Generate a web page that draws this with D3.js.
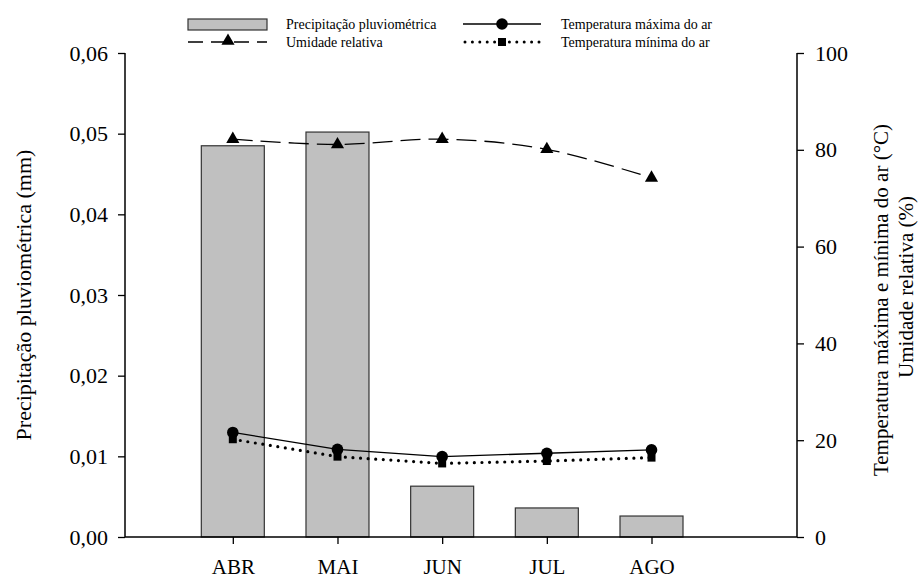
<!DOCTYPE html>
<html>
<head>
<meta charset="utf-8">
<script src="https://cdn.jsdelivr.net/npm/d3@7/dist/d3.min.js"></script>
<style>
  body { margin: 0; background: #fff; }
  svg text { font-family: "Liberation Serif", "Times New Roman", Times, Tinos, "Noto Serif", "DejaVu Serif", serif; fill: #000; }
</style>
</head>
<body>
<svg id="chart" width="918" height="579"></svg>
<script>
const months = ["ABR", "MAI", "JUN", "JUL", "AGO"];
const precipitation = [0.0485, 0.0502, 0.0063, 0.0036, 0.0026];
const humidity = [82.2, 81.1, 82.2, 80.1, 74.2];
const tempMax = [21.6, 18.1, 16.6, 17.3, 18.0];
const tempMin = [20.2, 16.6, 15.2, 15.7, 16.4];
const leftTicks = [0, 0.01, 0.02, 0.03, 0.04, 0.05, 0.06];
const rightTicks = [0, 20, 40, 60, 80, 100];

const margin = { left: 125, right: 797, top: 53, bottom: 537 };
const svg = d3.select("#chart");

const x = d3.scaleLinear().domain([-1.03, 5.39]).range([margin.left, margin.right]);
const yL = d3.scaleLinear().domain([0, 0.06]).range([margin.bottom, margin.top]);
const yR = d3.scaleLinear().domain([0, 100]).range([margin.bottom, margin.top]);
const barW = 63;

// bars
svg.append("g").selectAll("rect")
  .data(precipitation)
  .join("rect")
  .attr("x", (d, i) => x(i) - barW / 2)
  .attr("y", d => yL(d))
  .attr("width", barW)
  .attr("height", d => yL(0) - yL(d))
  .attr("fill", "#c0c0c0")
  .attr("stroke", "#333")
  .attr("stroke-width", 1.2);

// axes
const fmt = d => d3.format(".2f")(d).replace(".", ",");
const left = svg.append("g")
  .attr("transform", `translate(${margin.left},0)`)
  .call(d3.axisLeft(yL).tickValues(leftTicks).tickFormat(fmt).tickSize(7).tickPadding(10));
const right = svg.append("g")
  .attr("transform", `translate(${margin.right},0)`)
  .call(d3.axisRight(yR).tickValues(rightTicks).tickSize(7).tickPadding(11));
const bottom = svg.append("g")
  .attr("transform", `translate(0,${margin.bottom})`)
  .call(d3.axisBottom(x).tickValues(d3.range(months.length)).tickFormat(i => months[i]).tickSize(7).tickPadding(15));
[left, right, bottom].forEach(g => {
  g.attr("font-family", null).attr("font-size", 22);
  g.select(".domain").attr("d", null);
  g.selectAll("line").attr("stroke", "#000").attr("stroke-width", 1.3);
});
bottom.attr("font-size", 21);
svg.append("path")
  .attr("d", `M${margin.left},${margin.top}V${margin.bottom}H${margin.right}V${margin.top}`)
  .attr("fill", "none").attr("stroke", "#000").attr("stroke-width", 1.5);

// lines
const line = d3.line().x((d, i) => x(i)).y(d => yR(d)).curve(d3.curveCatmullRom.alpha(0.5));
const straight = d3.line().x((d, i) => x(i)).y(d => yR(d));
svg.append("path").attr("d", line(humidity))
  .attr("fill", "none").attr("stroke", "#000").attr("stroke-width", 1.3).attr("stroke-dasharray", "20,8");
svg.append("path").attr("d", straight(tempMin))
  .attr("fill", "none").attr("stroke", "#000").attr("stroke-width", 3.2)
  .attr("stroke-linecap", "round").attr("stroke-dasharray", "0,7.6");
svg.append("path").attr("d", straight(tempMax))
  .attr("fill", "none").attr("stroke", "#000").attr("stroke-width", 1.3);

const tri = d3.symbol().type(d3.symbolTriangle).size(75);
svg.append("g").selectAll("path").data(humidity).join("path")
  .attr("d", tri).attr("transform", (d, i) => `translate(${x(i)},${yR(d)})`).attr("fill", "#000");
svg.append("g").selectAll("rect").data(tempMin).join("rect")
  .attr("x", (d, i) => x(i) - 4).attr("y", d => yR(d) - 4).attr("width", 8).attr("height", 8).attr("fill", "#000");
svg.append("g").selectAll("circle").data(tempMax).join("circle")
  .attr("cx", (d, i) => x(i)).attr("cy", d => yR(d)).attr("r", 5.8).attr("fill", "#000");

// axis titles
svg.append("text")
  .attr("transform", `translate(31,${(margin.top + margin.bottom) / 2}) rotate(-90)`)
  .attr("text-anchor", "middle").attr("font-size", 22)
  .text("Precipitação pluviométrica (mm)");
svg.append("text")
  .attr("transform", `translate(888,300) rotate(-90)`)
  .attr("text-anchor", "middle").attr("font-size", 21)
  .text("Temperatura máxima e mínima do ar (°C)");
svg.append("text")
  .attr("transform", `translate(913,287) rotate(-90)`)
  .attr("text-anchor", "middle").attr("font-size", 21)
  .text("Umidade relativa (%)");

// legend
const lg = svg.append("g").attr("font-size", 14);
const row1 = 24, row2 = 42;
lg.append("rect").attr("x", 188).attr("y", 19).attr("width", 79).attr("height", 11)
  .attr("fill", "#c0c0c0").attr("stroke", "#333").attr("stroke-width", 1.2);
lg.append("text").attr("x", 286).attr("y", row1 + 5).text("Precipitação pluviométrica");
lg.append("path").attr("d", `M188,${row2}H267`).attr("stroke", "#000").attr("stroke-width", 1.3)
  .attr("stroke-dasharray", "15,8,15,8");
lg.append("path").attr("d", tri).attr("transform", `translate(228,${row2 - 1})`).attr("fill", "#000");
lg.append("text").attr("x", 286).attr("y", row2 + 5).text("Umidade relativa");
lg.append("path").attr("d", `M463,${row1}H541`).attr("stroke", "#000").attr("stroke-width", 1.3);
lg.append("circle").attr("cx", 502).attr("cy", row1).attr("r", 5.8).attr("fill", "#000");
lg.append("text").attr("x", 561).attr("y", row1 + 5).text("Temperatura máxima do ar");
lg.append("path").attr("d", `M465,${row2}H541`).attr("stroke", "#000").attr("stroke-width", 3)
  .attr("stroke-linecap", "round").attr("stroke-dasharray", "0,7.4");
lg.append("rect").attr("x", 498).attr("y", row2 - 4).attr("width", 8).attr("height", 8).attr("fill", "#000");
lg.append("text").attr("x", 561).attr("y", row2 + 5).text("Temperatura mínima do ar");
</script>
</body>
</html>
